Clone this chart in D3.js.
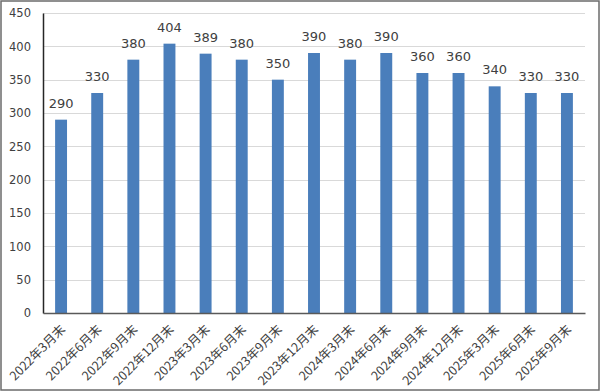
<!DOCTYPE html>
<html>
<head>
<meta charset="utf-8">
<script src="https://cdn.jsdelivr.net/npm/d3@7"></script>
<style>
  body { margin: 0; background: #fff; }
  svg { display: block; }
</style>
</head>
<body>
<div id="vis"></div>
<script>
var categories = ["2022年3月末", "2022年6月末", "2022年9月末", "2022年12月末",
  "2023年3月末", "2023年6月末", "2023年9月末", "2023年12月末",
  "2024年3月末", "2024年6月末", "2024年9月末", "2024年12月末",
  "2025年3月末", "2025年6月末", "2025年9月末"];
var values = [290, 330, 380, 404, 389, 380, 350, 390, 380, 390, 360, 360, 340, 330, 330];
var yTicks = [0, 50, 100, 150, 200, 250, 300, 350, 400, 450];

var elem_width = 600;
var elem_height = 391;
var margin = { left: 43, right: 15, top: 13, bottom: 78 };

var svg = d3.select("#vis")
  .append("svg")
  .attr("width", elem_width)
  .attr("height", elem_height);

svg.append("rect")
  .attr("x", 1)
  .attr("y", 1)
  .attr("width", elem_width - 2)
  .attr("height", elem_height - 2)
  .attr("fill", "#fff")
  .attr("stroke", "#6b6b6b")
  .attr("stroke-width", 1.5);

var x = d3.scaleBand()
  .domain(categories)
  .range([margin.left, elem_width - margin.right])
  .paddingInner(0.67)
  .paddingOuter(0.335);

var y = d3.scaleLinear()
  .domain([0, 450])
  .range([elem_height - margin.bottom, margin.top]);

// gridlines
svg.append("g")
  .selectAll("line")
  .data(yTicks.slice(1))
  .enter().append("line")
  .attr("x1", margin.left)
  .attr("x2", elem_width - margin.right)
  .attr("y1", function(d) { return Math.round(y(d)) + 0.5; })
  .attr("y2", function(d) { return Math.round(y(d)) + 0.5; })
  .attr("stroke", "#d9d9d9")
  .attr("stroke-width", 1);

// bars
svg.append("g")
  .selectAll("rect")
  .data(values)
  .enter().append("rect")
  .attr("x", function(d, i) { return x(categories[i]); })
  .attr("width", x.bandwidth())
  .attr("y", function(d) { return y(d); })
  .attr("height", function(d) { return y(0) - y(d); })
  .attr("fill", "#4a7ebb");

// value labels
svg.append("g")
  .selectAll("text")
  .data(values)
  .enter().append("text")
  .attr("x", function(d, i) { return x(categories[i]) + x.bandwidth() / 2; })
  .attr("y", function(d) { return y(d) - 12; })
  .attr("text-anchor", "middle")
  .attr("font-family", "'DejaVu Sans', sans-serif")
  .attr("font-size", 13)
  .attr("fill", "#404040")
  .text(function(d) { return d; });

// y axis
var yAxis = svg.append("g")
  .attr("transform", "translate(" + margin.left + ",0)")
  .call(d3.axisLeft(y).tickValues(yTicks).tickSize(0).tickPadding(12));
yAxis.select(".domain").attr("stroke", "#262626").attr("stroke-width", 1.5);
yAxis.selectAll("text")
  .attr("font-family", "'DejaVu Sans', sans-serif")
  .attr("font-size", 11.5)
  .attr("fill", "#404040");

// x axis
var xAxis = svg.append("g")
  .attr("transform", "translate(0," + y(0) + ")")
  .call(d3.axisBottom(x).tickSize(0).tickPadding(0));
xAxis.select(".domain").attr("stroke", "#595959").attr("stroke-width", 1.5);
xAxis.selectAll("text")
  .attr("font-family", "'Noto Sans CJK JP', 'DejaVu Sans', sans-serif")
  .attr("font-size", 12.5)
  .attr("fill", "#404040")
  .attr("text-anchor", "end")
  .attr("dy", "0.35em")
  .attr("transform", "translate(2,14) rotate(-45)");
</script>
</body>
</html>
